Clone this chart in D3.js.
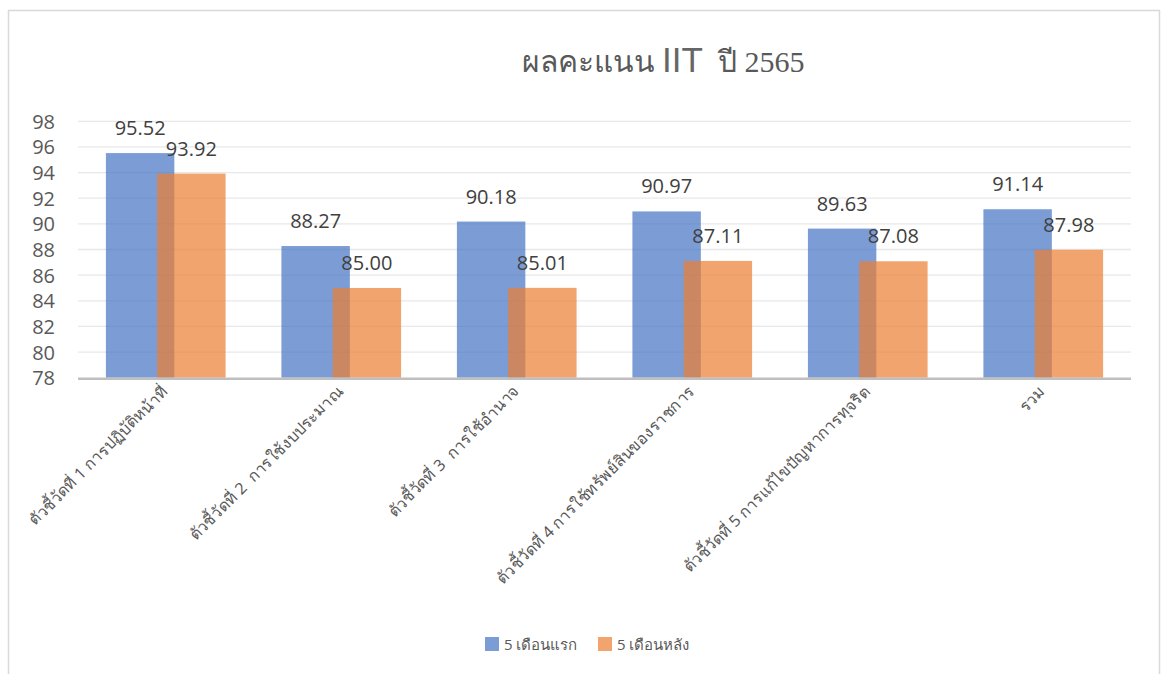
<!DOCTYPE html>
<html>
<head>
<meta charset="utf-8">
<script src="https://cdn.jsdelivr.net/npm/d3@7"></script>
<style>
  body { margin: 0; background: #fff; }
  svg { display: block; }
  text { white-space: pre; }
</style>
</head>
<body>
<svg id="chart" width="1165" height="674"></svg>
<script>
const categories = [
  "ตัวชี้วัดที่ 1 การปฏิบัติหน้าที่",
  "ตัวชี้วัดที่ 2  การใช้งบประมาณ",
  "ตัวชี้วัดที่ 3  การใช้อำนาจ",
  "ตัวชี้วัดที่ 4 การใช้ทรัพย์สินของราชการ",
  "ตัวชี้วัดที่ 5 การแก้ไขปัญหาการทุจริต",
  "รวม"
];
const seriesNames = ["5 เดือนแรก", "5 เดือนหลัง"];
const firstHalf = [95.52, 88.27, 90.18, 90.97, 89.63, 91.14];
const secondHalf = [93.92, 85.00, 85.01, 87.11, 87.08, 87.98];
const yTicks = [78, 80, 82, 84, 86, 88, 90, 92, 94, 96, 98];
const colors = ["#4472C4", "#ED7D31"];

const svg = d3.select("#chart");

// chart border
svg.append("rect").attr("x", 8.5).attr("y", 10.5).attr("width", 1151).attr("height", 700)
  .attr("fill", "#fff").attr("stroke", "#D9D9D9").attr("stroke-width", 1.5);

const plot = { left: 78, right: 1131, top: 121.3, bottom: 377.7 };
const x = d3.scaleBand().domain(categories).range([plot.left, plot.right]).padding(0);
const y = d3.scaleLinear().domain([78, 98]).range([plot.bottom, plot.top]);
const bw = x.bandwidth();
const sub = d3.scalePoint().domain(seriesNames).range([-bw * 0.146, bw * 0.146]);
const barW = bw * 0.39;

// gridlines
svg.append("g").selectAll("line").data(yTicks.filter(t => t > 78)).join("line")
  .attr("x1", plot.left).attr("x2", plot.right)
  .attr("y1", d => y(d)).attr("y2", d => y(d))
  .attr("stroke", "#E8E8E8").attr("stroke-width", 1.3);

// y axis labels
const yAxis = d3.axisLeft(y).tickValues(yTicks).tickSize(0).tickPadding(0);
const yg = svg.append("g").attr("transform", `translate(${plot.left - 23},0)`).call(yAxis);
yg.select(".domain").remove();
yg.selectAll("text").attr("font-family", "'Open Sans', 'Noto Sans', sans-serif")
  .attr("font-size", 20).attr("fill", "#595959").attr("dy", "0.35em");

const series = [firstHalf, secondHalf];
series.forEach((vals, si) => {
  const g = svg.append("g");
  g.selectAll("rect").data(vals).join("rect")
    .attr("x", (d, i) => x(categories[i]) + bw / 2 + sub(seriesNames[si]) - barW / 2)
    .attr("y", d => y(d))
    .attr("width", barW)
    .attr("height", d => y(78) - y(d))
    .attr("fill", colors[si]).attr("fill-opacity", 0.7);
});
series.forEach((vals, si) => {
  svg.append("g").selectAll("text").data(vals).join("text")
    .attr("x", (d, i) => x(categories[i]) + bw / 2 + sub(seriesNames[si]))
    .attr("y", d => y(d) - 18)
    .attr("text-anchor", "middle")
    .attr("font-family", "'Open Sans', 'Noto Sans', sans-serif")
    .attr("font-size", 20).attr("fill", "#404040")
    .text(d => d.toFixed(2));
});

// baseline
svg.append("line").attr("x1", plot.left).attr("x2", plot.right)
  .attr("y1", y(78) + 1).attr("y2", y(78) + 1)
  .attr("stroke", "#BFBFBF").attr("stroke-width", 2.5);

// category labels
svg.append("g").selectAll("text").data(categories).join("text")
  .attr("transform", d => `translate(${x(d) + bw / 2 + 3},${plot.bottom + 15}) rotate(-45)`)
  .attr("text-anchor", "end")
  .attr("font-family", "'Noto Sans', 'Open Sans', sans-serif")
  .attr("font-size", 16).attr("fill", "#595959")
  .text(d => d);

// title
const title = svg.append("text").attr("x", 663).attr("y", 72).attr("text-anchor", "middle")
  .attr("fill", "#595959").attr("font-family", "'Liberation Serif', serif").attr("font-size", 30);
title.append("tspan").text("ผลคะแนน ");
title.append("tspan").attr("font-family", "'Liberation Sans', sans-serif").attr("font-size", 35)
  .attr("fill", "#666").text("IIT");
title.append("tspan").text("  ปี ");
title.append("tspan").attr("font-family", "'Liberation Serif', 'DejaVu Serif', serif").text("2565");

// legend
const legend = svg.append("g");
const legendItems = [{ name: seriesNames[0], x: 485 }, { name: seriesNames[1], x: 598 }];
legendItems.forEach((it, i) => {
  legend.append("rect").attr("x", it.x).attr("y", 637).attr("width", 14).attr("height", 14)
    .attr("fill", colors[i]).attr("fill-opacity", 0.7);
  legend.append("text").attr("x", it.x + 19).attr("y", 649.5)
    .attr("font-family", "'Open Sans', 'Noto Sans', sans-serif")
    .attr("font-size", 15).attr("fill", "#595959").text(it.name);
});
</script>
</body>
</html>
